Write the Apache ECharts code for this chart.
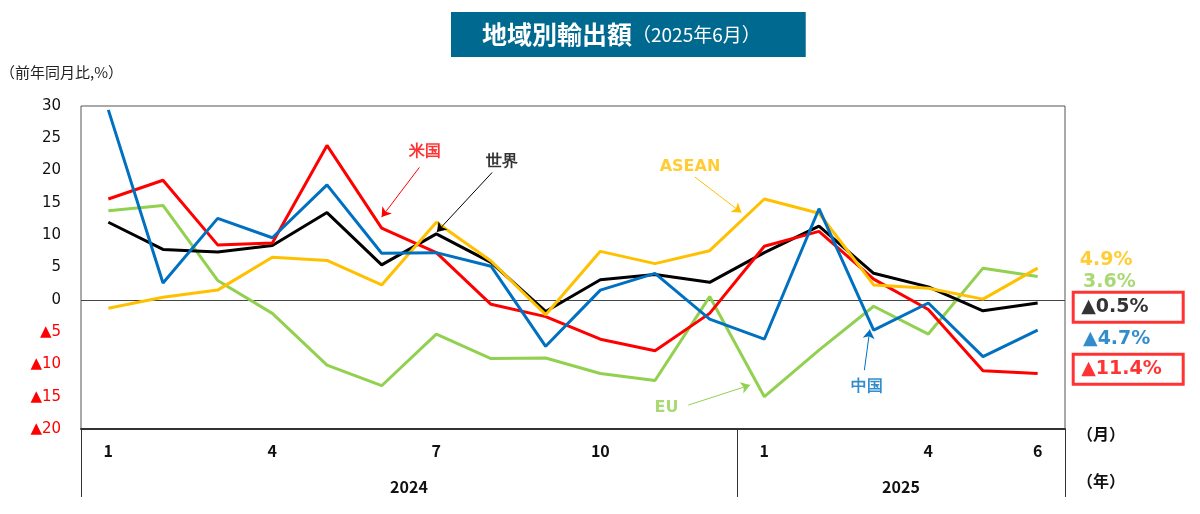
<!DOCTYPE html>
<html lang="ja">
<head>
    <meta charset="UTF-8">
    <title>地域別輸出額</title>
    <script src="https://cdn.jsdelivr.net/npm/echarts@6.0.0/dist/echarts.min.js"></script>
    <style>
        html, body { margin: 0; padding: 0; background: #fff; }
    </style>
</head>
<body>
    <div id="echart" style="width: 1200px; height: 514px;"></div>
</body>
<script>
    // 2024/1 - 2025/6, 前年同月比(%)
    const months = ['1', '2', '3', '4', '5', '6', '7', '8', '9', '10', '11', '12',
        '1', '2', '3', '4', '5', '6'];
    const labelMonths = [0, 3, 6, 9, 12, 15, 17];   // ラベルを出す月
    const years = ['2024', '2025'];
    const yearMonths = [12, 6];

    const world = [12.0, 7.8, 7.4, 8.4, 13.5, 5.4, 10.2, 5.8, -1.8, 3.1, 3.9, 2.7,
        7.3, 11.4, 4.1, 2.0, -1.7, -0.5];
    const usa = [15.6, 18.5, 8.5, 8.8, 23.9, 11.1, 7.3, -0.7, -2.6, -6.1, -7.9, -2.1,
        8.3, 10.6, 3.2, -1.5, -11.0, -11.4];
    const china = [29.4, 2.6, 12.6, 9.6, 17.8, 7.2, 7.3, 5.2, -7.2, 1.5, 4.1, -3.0,
        -6.1, 14.1, -4.7, -0.5, -8.8, -4.7];
    const asean = [-1.3, 0.4, 1.5, 6.6, 6.1, 2.3, 12.0, 6.0, -2.3, 7.5, 5.6, 7.6,
        15.6, 13.4, 2.3, 1.8, 0.1, 4.9];
    const eu = [13.8, 14.6, 3.0, -2.1, -10.1, -13.3, -5.3, -9.1, -9.0, -11.4, -12.5, 0.5,
        -15.0, -7.8, -1.0, -5.3, 4.9, 3.6];

    const RED = '#ff0000', BLUE = '#0070c0', ORANGE = '#ffc000', GREEN = '#92d050', BLACK = '#000000';

    // 年の区切りと中央位置（月単位）
    let yearStart = [], yearCenter = [], acc = 0;
    yearMonths.forEach(n => { yearStart.push(acc); yearCenter.push(acc + n / 2); acc += n; });

    function fmt(v) {
        return (v < 0 ? '▲' + Math.abs(v).toFixed(1) : v.toFixed(1)) + '%';
    }

    // 注釈（x は月単位の位置、y は値）
    const notes = [
        { name: '米国', color: RED, text: [6.29, 22.9], arrow: [[6.19, 20.5], [5.50, 12.8]] },
        { name: '世界', color: BLACK, text: [7.70, 21.4], arrow: [[7.52, 19.7], [6.51, 10.5]] },
        { name: 'ASEAN', color: ORANGE, text: [11.14, 20.6], arrow: [[11.23, 19.0], [12.08, 13.5]] },
        { name: 'EU', color: GREEN, text: [10.71, -16.8], arrow: [[11.11, -16.3], [12.24, -13.2]] },
        { name: '中国', color: BLUE, text: [14.37, -13.4], arrow: [[14.33, -10.9], [14.43, -4.6]] },
    ];

    // 右側の最新値ラベル
    const lastLabels = [
        { v: asean[17], color: ORANGE, pos: [18.27, 6.19], box: false },
        { v: eu[17], color: GREEN, pos: [18.33, 2.79], box: false },
        { v: world[17], color: BLACK, pos: [18.15, -1.16], box: true },
        { v: china[17], color: BLUE, pos: [18.33, -6.04], box: false },
        { v: usa[17], color: RED, pos: [18.15, -10.76], box: true },
    ];

    const myChart = echarts.init(document.getElementById('echart'));

    function lineSeries(name, data, color) {
        return {
            name: name,
            type: 'line',
            data: data,
            symbol: 'none',
            lineStyle: { color: color, width: 3 },
            itemStyle: { color: color },
            z: 3,
        };
    }

    const worldSeries = lineSeries('世界', world, BLACK);
    worldSeries.markLine = {
        silent: true,
        symbol: 'none',
        label: { show: false },
        lineStyle: { color: '#444', width: 1, type: 'solid' },
        data: [{ yAxis: 0 }],
        z: 1,
    };

    myChart.setOption({
        animation: false,
        title: {
            text: '{a|地域別輸出額}{b|（2025年6月）}',
            left: 451,
            top: 11,
            backgroundColor: '#00698f',
            padding: [10, 45, 10, 31],
            textStyle: {
                rich: {
                    a: { color: '#fff', fontSize: 25, fontWeight: 'bold', fontFamily: 'Noto Sans CJK JP', lineHeight: 27 },
                    b: { color: '#fff', fontSize: 19, fontWeight: 'normal', fontFamily: 'Noto Sans CJK JP', lineHeight: 27 },
                }
            }
        },
        graphic: [
            { type: 'text', left: 0, top: 65, style: { text: '（前年同月比,%）', fontSize: 15, fontFamily: 'Noto Sans CJK JP', fill: '#222' } },
            { type: 'text', left: 1077, top: 426, style: { text: '（月）', fontSize: 16, fontWeight: 'bold', fontFamily: 'Noto Sans CJK JP', fill: '#111' } },
            { type: 'text', left: 1077, top: 473, style: { text: '（年）', fontSize: 16, fontWeight: 'bold', fontFamily: 'Noto Sans CJK JP', fill: '#111' } },
        ],
        grid: {
            left: 81,
            right: 135,
            top: 106,
            bottom: 85,
            show: true,
            borderColor: '#555',
            borderWidth: 1,
        },
        xAxis: [
            {
                type: 'category',
                data: months,
                position: 'bottom',
                axisLine: { onZero: false, lineStyle: { color: '#333', width: 2 } },
                axisTick: {
                    show: true,
                    interval: i => yearStart.includes(i),
                    length: 68,
                    lineStyle: { color: '#333', width: 1 },
                },
                axisLabel: {
                    interval: i => labelMonths.includes(i),
                    margin: 14,
                    fontSize: 16,
                    fontWeight: 'bold',
                    fontFamily: 'Noto Sans CJK JP',
                    color: '#111',
                },
                splitLine: { show: false },
            },
            {
                type: 'value',
                min: 0,
                max: months.length,
                interval: 1,
                position: 'bottom',
                axisLine: { show: false },
                axisTick: { show: false },
                splitLine: { show: false },
                axisLabel: {
                    margin: 50,
                    fontSize: 16,
                    fontWeight: 'bold',
                    fontFamily: 'Noto Sans CJK JP',
                    color: '#111',
                    formatter: v => {
                        const k = yearCenter.indexOf(v);
                        return k >= 0 ? years[k] : '';
                    },
                },
            }
        ],
        yAxis: {
            type: 'value',
            min: -20,
            max: 30,
            interval: 5,
            axisLine: { show: false },
            axisTick: { show: false },
            splitLine: { show: false },
            axisLabel: {
                margin: 20,
                fontSize: 15,
                fontFamily: 'DejaVu Sans',
                color: v => (v < 0 ? RED : '#111'),
                formatter: v => (v < 0 ? '▲' + Math.abs(v) : '' + v),
            },
        },
        series: [
            lineSeries('EU', eu, GREEN),
            worldSeries,
            lineSeries('米国', usa, RED),
            lineSeries('ASEAN', asean, ORANGE),
            lineSeries('中国', china, BLUE),
            {
                name: 'arrows',
                type: 'lines',
                coordinateSystem: 'cartesian2d',
                xAxisIndex: 1,
                yAxisIndex: 0,
                symbol: ['none', 'arrow'],
                symbolSize: 9,
                silent: true,
                lineStyle: { width: 1, opacity: 1 },
                data: notes.map(n => ({ coords: n.arrow, lineStyle: { color: n.color } })),
                z: 4,
            },
            {
                name: 'notes',
                type: 'scatter',
                xAxisIndex: 1,
                yAxisIndex: 0,
                symbolSize: 0,
                silent: true,
                clip: false,
                data: notes.map(n => ({
                    name: n.name,
                    value: n.text,
                    label: { color: n.color },
                })),
                label: {
                    show: true,
                    position: 'inside',
                    formatter: '{b}',
                    fontSize: 16,
                    fontWeight: 'bold',
                    fontFamily: 'DejaVu Sans',
                },
                z: 5,
            },
            {
                name: 'last',
                type: 'scatter',
                xAxisIndex: 1,
                yAxisIndex: 0,
                symbolSize: 0,
                silent: true,
                clip: false,
                data: lastLabels.map(o => ({
                    name: fmt(o.v),
                    value: o.pos,
                    label: o.box ? {
                        color: o.color,
                        borderColor: RED,
                        borderWidth: 3,
                        padding: [5, 8, 3, 8],
                        width: 94,
                    } : { color: o.color },
                })),
                label: {
                    show: true,
                    position: 'right',
                    distance: 0,
                    formatter: '{b}',
                    fontSize: 19,
                    fontWeight: 'bold',
                    fontFamily: 'DejaVu Sans',
                    lineHeight: 22,
                },
                z: 5,
            },
        ],
    });
</script>
</html>
